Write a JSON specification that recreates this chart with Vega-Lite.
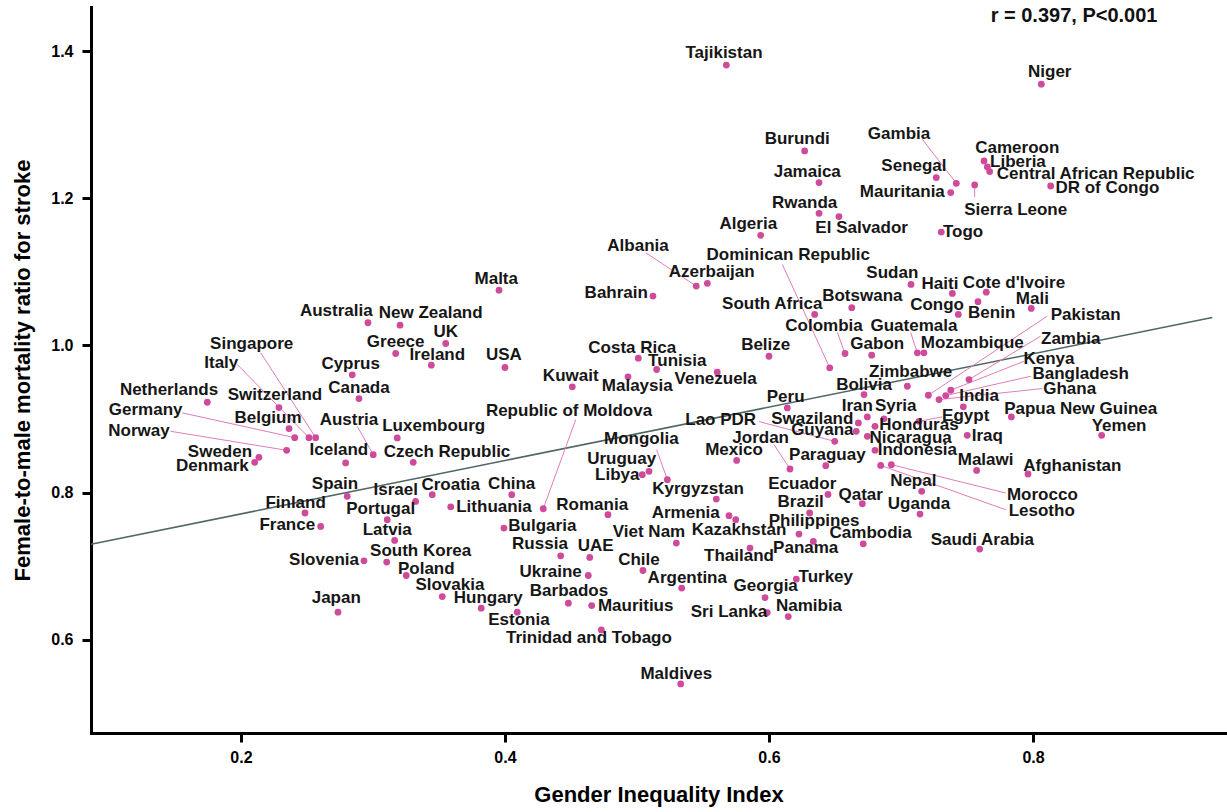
{
  "$schema": "https://vega.github.io/schema/vega-lite/v6.json",
  "width": 1135,
  "height": 726,
  "autosize": "none",
  "padding": {"left": 91, "top": 7, "right": 1, "bottom": 79},
  "background": "white",
  "config": {
    "view": {"stroke": null},
    "font": "Liberation Sans",
    "axis": {"grid": false, "domainColor": "black", "domainWidth": 3, "domainCap": "square", "tickColor": "black",
             "tickWidth": 3, "tickSize": 9, "labelFont": "Liberation Sans", "labelFontWeight": "bold",
             "labelFontSize": 16, "labelColor": "black", "format": ".1f", "tickCount": 5,
             "titleFont": "Liberation Sans", "titleFontSize": 22, "titleFontWeight": "bold",
             "titleColor": "black"},
    "axisX": {"labelPadding": 7, "titlePadding": 19},
    "axisY": {"labelPadding": 9, "titlePadding": 16}
  },
  "datasets": {
    "fit": [{"x": 0.0864, "y": 0.730}, {"x": 0.9358, "y": 1.038}],
    "note": [{"t": "r = 0.397, P<0.001", "x": 0.8311, "y": 1.4476}],
    "pts": [
      {"c":"Netherlands","x":0.1745,"y":0.9229,"lx":0.1455,"ly":0.9401},
      {"c":"Denmark","x":0.2104,"y":0.8412,"lx":0.1783,"ly":0.8358},
      {"c":"Sweden","x":0.2136,"y":0.8480,"lx":0.1841,"ly":0.8549},
      {"c":"Switzerland","x":0.2288,"y":0.9157,"lx":0.2258,"ly":0.9333},
      {"c":"Norway","x":0.2346,"y":0.8576,"lx":0.1227,"ly":0.8844,"sx":0.1467,"sy":0.8834},
      {"c":"Belgium","x":0.2364,"y":0.8871,"lx":0.2205,"ly":0.9016},
      {"c":"Germany","x":0.2407,"y":0.8748,"lx":0.1278,"ly":0.9120,"sx":0.1555,"sy":0.9085},
      {"c":"Finland","x":0.2485,"y":0.7724,"lx":0.2414,"ly":0.7860},
      {"c":"Italy","x":0.2515,"y":0.8748,"lx":0.1851,"ly":0.9765,"sx":0.1972,"sy":0.9742},
      {"c":"Singapore","x":0.2566,"y":0.8748,"lx":0.2081,"ly":1.0014,"sx":0.2149,"sy":0.9901},
      {"c":"France","x":0.2604,"y":0.7542,"lx":0.2351,"ly":0.7565},
      {"c":"Japan","x":0.2735,"y":0.6377,"lx":0.2722,"ly":0.6567},
      {"c":"Iceland","x":0.2793,"y":0.8404,"lx":0.2742,"ly":0.8585},
      {"c":"Spain","x":0.2805,"y":0.7950,"lx":0.2712,"ly":0.8123},
      {"c":"Cyprus","x":0.2843,"y":0.9601,"lx":0.2831,"ly":0.9755},
      {"c":"Canada","x":0.2894,"y":0.9279,"lx":0.2894,"ly":0.9429},
      {"c":"Slovenia","x":0.2932,"y":0.7075,"lx":0.2629,"ly":0.7079},
      {"c":"Australia","x":0.2962,"y":1.0309,"lx":0.2722,"ly":1.0467},
      {"c":"Austria","x":0.3002,"y":0.8517,"lx":0.2818,"ly":0.8993,"sx":0.2881,"sy":0.8902},
      {"c":"Portugal","x":0.3108,"y":0.7633,"lx":0.3058,"ly":0.7778},
      {"c":"South Korea","x":0.3104,"y":0.7057,"lx":0.3361,"ly":0.7202},
      {"c":"Latvia","x":0.3164,"y":0.7351,"lx":0.3108,"ly":0.7497},
      {"c":"Greece","x":0.3172,"y":0.9891,"lx":0.3172,"ly":1.0050},
      {"c":"Luxembourg","x":0.3184,"y":0.8744,"lx":0.3460,"ly":0.8902},
      {"c":"New Zealand","x":0.3205,"y":1.0276,"lx":0.3437,"ly":1.0445},
      {"c":"Poland","x":0.3252,"y":0.6875,"lx":0.3404,"ly":0.6966},
      {"c":"Czech Republic","x":0.3305,"y":0.8412,"lx":0.3561,"ly":0.8549},
      {"c":"Israel","x":0.3323,"y":0.7882,"lx":0.3172,"ly":0.8031},
      {"c":"UK","x":0.3551,"y":1.0027,"lx":0.3551,"ly":1.0181},
      {"c":"Ireland","x":0.3442,"y":0.9732,"lx":0.3487,"ly":0.9868},
      {"c":"Croatia","x":0.3449,"y":0.7973,"lx":0.3589,"ly":0.8109},
      {"c":"Slovakia","x":0.3525,"y":0.6589,"lx":0.3583,"ly":0.6748},
      {"c":"Lithuania","x":0.3589,"y":0.7806,"lx":0.3917,"ly":0.7800},
      {"c":"Hungary","x":0.3820,"y":0.6431,"lx":0.3873,"ly":0.6567},
      {"c":"Malta","x":0.3955,"y":1.0752,"lx":0.3934,"ly":1.0908},
      {"c":"Bulgaria","x":0.3992,"y":0.7520,"lx":0.4283,"ly":0.7542},
      {"c":"USA","x":0.4000,"y":0.9701,"lx":0.3992,"ly":0.9868},
      {"c":"China","x":0.4051,"y":0.7973,"lx":0.4051,"ly":0.8123},
      {"c":"Estonia","x":0.4093,"y":0.6377,"lx":0.4106,"ly":0.6272},
      {"c":"Republic of Moldova","x":0.4290,"y":0.7782,"lx":0.4485,"ly":0.9116,"sx":0.4536,"sy":0.8993},
      {"c":"Russia","x":0.4422,"y":0.7143,"lx":0.4265,"ly":0.7302},
      {"c":"Barbados","x":0.4480,"y":0.6499,"lx":0.4485,"ly":0.6671},
      {"c":"Kuwait","x":0.4510,"y":0.9438,"lx":0.4498,"ly":0.9592},
      {"c":"Ukraine","x":0.4631,"y":0.6875,"lx":0.4346,"ly":0.6929},
      {"c":"UAE","x":0.4642,"y":0.7120,"lx":0.4687,"ly":0.7270},
      {"c":"Mauritius","x":0.4657,"y":0.6467,"lx":0.4990,"ly":0.6467},
      {"c":"Trinidad and Tobago","x":0.4730,"y":0.6136,"lx":0.4636,"ly":0.6023},
      {"c":"Romania","x":0.4780,"y":0.7701,"lx":0.4661,"ly":0.7837},
      {"c":"Malaysia","x":0.4932,"y":0.9574,"lx":0.5002,"ly":0.9446},
      {"c":"Costa Rica","x":0.5010,"y":0.9827,"lx":0.4964,"ly":0.9969},
      {"c":"Libya","x":0.5040,"y":0.8245,"lx":0.4851,"ly":0.8245},
      {"c":"Chile","x":0.5045,"y":0.6943,"lx":0.5015,"ly":0.7089},
      {"c":"Uruguay","x":0.5091,"y":0.8290,"lx":0.4884,"ly":0.8459},
      {"c":"Bahrain","x":0.5121,"y":1.0671,"lx":0.4843,"ly":1.0708},
      {"c":"Tunisia","x":0.5149,"y":0.9674,"lx":0.5305,"ly":0.9796},
      {"c":"Mongolia","x":0.5230,"y":0.8177,"lx":0.5033,"ly":0.8731,"sx":0.5149,"sy":0.8585},
      {"c":"Viet Nam","x":0.5298,"y":0.7316,"lx":0.5091,"ly":0.7466},
      {"c":"Maldives","x":0.5331,"y":0.5401,"lx":0.5298,"ly":0.5538},
      {"c":"Argentina","x":0.5339,"y":0.6704,"lx":0.5381,"ly":0.6840},
      {"c":"Albania","x":0.5449,"y":1.0807,"lx":0.5008,"ly":1.1351,"sx":0.5066,"sy":1.1261},
      {"c":"Azerbaijan","x":0.5533,"y":1.0844,"lx":0.5566,"ly":1.0997},
      {"c":"Kyrgyzstan","x":0.5601,"y":0.7914,"lx":0.5462,"ly":0.8054},
      {"c":"Tajikistan","x":0.5677,"y":1.3810,"lx":0.5659,"ly":1.3969},
      {"c":"Armenia","x":0.5697,"y":0.7687,"lx":0.5369,"ly":0.7724},
      {"c":"Kazakhstan","x":0.5748,"y":0.7633,"lx":0.5773,"ly":0.7497},
      {"c":"Mexico","x":0.5755,"y":0.8439,"lx":0.5735,"ly":0.8576},
      {"c":"Venezuela","x":0.5608,"y":0.9637,"lx":0.5596,"ly":0.9538},
      {"c":"Thailand","x":0.5856,"y":0.7248,"lx":0.5773,"ly":0.7134},
      {"c":"Algeria","x":0.5937,"y":1.1497,"lx":0.5843,"ly":1.1646},
      {"c":"Georgia","x":0.5970,"y":0.6575,"lx":0.5975,"ly":0.6739},
      {"c":"Sri Lanka","x":0.5987,"y":0.6371,"lx":0.5697,"ly":0.6385},
      {"c":"Belize","x":0.6000,"y":0.9854,"lx":0.5975,"ly":1.0000},
      {"c":"Peru","x":0.6139,"y":0.9152,"lx":0.6126,"ly":0.9297},
      {"c":"Namibia","x":0.6146,"y":0.6317,"lx":0.6303,"ly":0.6467},
      {"c":"Jordan","x":0.6159,"y":0.8322,"lx":0.5937,"ly":0.8744,"sx":0.6038,"sy":0.8653},
      {"c":"Turkey","x":0.6207,"y":0.6826,"lx":0.6430,"ly":0.6848},
      {"c":"Philippines","x":0.6227,"y":0.7438,"lx":0.6341,"ly":0.7619},
      {"c":"Burundi","x":0.6270,"y":1.2644,"lx":0.6214,"ly":1.2803},
      {"c":"Brazil","x":0.6308,"y":0.7724,"lx":0.6240,"ly":0.7868},
      {"c":"Panama","x":0.6336,"y":0.7338,"lx":0.6278,"ly":0.7248},
      {"c":"South Africa","x":0.6346,"y":1.0422,"lx":0.6025,"ly":1.0558},
      {"c":"Jamaica","x":0.6379,"y":1.2214,"lx":0.6290,"ly":1.2358},
      {"c":"Rwanda","x":0.6379,"y":1.1796,"lx":0.6270,"ly":1.1942},
      {"c":"Paraguay","x":0.6430,"y":0.8367,"lx":0.6442,"ly":0.8517},
      {"c":"Ecuador","x":0.6447,"y":0.7977,"lx":0.6252,"ly":0.8122},
      {"c":"Dominican Republic","x":0.6460,"y":0.9697,"lx":0.6146,"ly":1.1224,"sx":0.6101,"sy":1.1102},
      {"c":"Lao PDR","x":0.6498,"y":0.8698,"lx":0.5634,"ly":0.8993,"sx":0.5924,"sy":0.8966},
      {"c":"El Salvador","x":0.6530,"y":1.1751,"lx":0.6702,"ly":1.1601},
      {"c":"Colombia","x":0.6576,"y":0.9891,"lx":0.6417,"ly":1.0263,"sx":0.6518,"sy":1.0177},
      {"c":"Botswana","x":0.6627,"y":1.0513,"lx":0.6707,"ly":1.0671},
      {"c":"Guyana","x":0.6661,"y":0.8834,"lx":0.6404,"ly":0.8848},
      {"c":"Swaziland","x":0.6677,"y":0.8948,"lx":0.6328,"ly":0.9003},
      {"c":"Qatar","x":0.6707,"y":0.7850,"lx":0.6695,"ly":0.7973},
      {"c":"Cambodia","x":0.6714,"y":0.7306,"lx":0.6770,"ly":0.7452},
      {"c":"Bolivia","x":0.6720,"y":0.9333,"lx":0.6720,"ly":0.9460},
      {"c":"Iran","x":0.6745,"y":0.9030,"lx":0.6669,"ly":0.9174},
      {"c":"Nicaragua","x":0.6745,"y":0.8766,"lx":0.7073,"ly":0.8744},
      {"c":"Gabon","x":0.6778,"y":0.9868,"lx":0.6820,"ly":1.0014},
      {"c":"Honduras","x":0.6803,"y":0.8902,"lx":0.7136,"ly":0.8925},
      {"c":"Indonesia","x":0.6803,"y":0.8576,"lx":0.7124,"ly":0.8576},
      {"c":"Lesotho","x":0.6846,"y":0.8371,"lx":0.8066,"ly":0.7746,"sx":0.7793,"sy":0.7769},
      {"c":"Syria","x":0.6871,"y":0.9003,"lx":0.6960,"ly":0.9174},
      {"c":"Morocco","x":0.6927,"y":0.8381,"lx":0.8071,"ly":0.7973,"sx":0.7793,"sy":0.7996},
      {"c":"Mauritania","x":0.7377,"y":1.2078,"lx":0.7010,"ly":1.2091},
      {"c":"Zimbabwe","x":0.7048,"y":0.9446,"lx":0.7073,"ly":0.9637},
      {"c":"Sudan","x":0.7076,"y":1.0830,"lx":0.6934,"ly":1.0980},
      {"c":"Uganda","x":0.7144,"y":0.7710,"lx":0.7136,"ly":0.7846},
      {"c":"Guatemala","x":0.7124,"y":0.9901,"lx":0.7098,"ly":1.0263,"sx":0.7073,"sy":1.0177},
      {"c":"Egypt","x":0.7136,"y":0.8970,"lx":0.7490,"ly":0.9048,"sx":0.7313,"sy":0.9030},
      {"c":"Nepal","x":0.7157,"y":0.8018,"lx":0.7093,"ly":0.8154},
      {"c":"Mozambique","x":0.7174,"y":0.9901,"lx":0.7540,"ly":1.0037},
      {"c":"Pakistan","x":0.7207,"y":0.9324,"lx":0.8399,"ly":1.0408,"sx":0.8108,"sy":1.0399},
      {"c":"Senegal","x":0.7267,"y":1.2282,"lx":0.7098,"ly":1.2439},
      {"c":"Ghana","x":0.7288,"y":0.9265,"lx":0.8278,"ly":0.9411,"sx":0.8070,"sy":0.9415},
      {"c":"Togo","x":0.7305,"y":1.1541,"lx":0.7470,"ly":1.1541},
      {"c":"Bangladesh","x":0.7339,"y":0.9320,"lx":0.8361,"ly":0.9615,"sx":0.7983,"sy":0.9582},
      {"c":"Kenya","x":0.7377,"y":0.9392,"lx":0.8121,"ly":0.9819,"sx":0.7932,"sy":0.9786},
      {"c":"Haiti","x":0.7389,"y":1.0707,"lx":0.7295,"ly":1.0837},
      {"c":"Gambia","x":0.7419,"y":1.2204,"lx":0.6985,"ly":1.2871,"sx":0.7161,"sy":1.2803},
      {"c":"Congo","x":0.7434,"y":1.0422,"lx":0.7273,"ly":1.0554},
      {"c":"India","x":0.7472,"y":0.9166,"lx":0.7591,"ly":0.9310},
      {"c":"Iraq","x":0.7502,"y":0.8780,"lx":0.7654,"ly":0.8766},
      {"c":"Zambia","x":0.7515,"y":0.9537,"lx":0.8286,"ly":1.0091,"sx":0.8058,"sy":1.0127},
      {"c":"Sierra Leone","x":0.7558,"y":1.2181,"lx":0.7869,"ly":1.1841,"sx":0.7558,"sy":1.2014},
      {"c":"Malawi","x":0.7573,"y":0.8303,"lx":0.7641,"ly":0.8439},
      {"c":"Benin","x":0.7583,"y":1.0595,"lx":0.7687,"ly":1.0435},
      {"c":"Saudi Arabia","x":0.7596,"y":0.7234,"lx":0.7616,"ly":0.7361},
      {"c":"Cameroon","x":0.7629,"y":1.2507,"lx":0.7881,"ly":1.2680},
      {"c":"Cote d'Ivoire","x":0.7646,"y":1.0725,"lx":0.7856,"ly":1.0853},
      {"c":"Liberia","x":0.7654,"y":1.2426,"lx":0.7886,"ly":1.2499},
      {"c":"Central African Republic","x":0.7672,"y":1.2363,"lx":0.8475,"ly":1.2327},
      {"c":"Papua New Guinea","x":0.7836,"y":0.9030,"lx":0.8361,"ly":0.9139},
      {"c":"Afghanistan","x":0.7962,"y":0.8254,"lx":0.8298,"ly":0.8367},
      {"c":"Mali","x":0.7987,"y":1.0503,"lx":0.7995,"ly":1.0635},
      {"c":"Niger","x":0.8063,"y":1.3551,"lx":0.8127,"ly":1.3710},
      {"c":"DR of Congo","x":0.8134,"y":1.2167,"lx":0.8563,"ly":1.2136},
      {"c":"Yemen","x":0.8520,"y":0.8780,"lx":0.8652,"ly":0.8902}
    ]
  },
  "layer": [
    {
      "data": {"name": "fit"},
      "mark": {"type": "line", "color": "#4f6767", "strokeWidth": 1.6},
      "encoding": {
        "x": {"field": "x", "type": "quantitative", "title": "Gender Inequality Index", "scale": {"domain": [0.0864, 0.9462], "nice": false, "zero": false}},
        "y": {"field": "y", "type": "quantitative", "title": "Female-to-male mortality ratio for stroke", "scale": {"domain": [0.4735, 1.4599], "nice": false, "zero": false}}
      }
    },
    {
      "data": {"name": "pts"},
      "transform": [{"filter": "isValid(datum.sx)"}],
      "mark": {"type": "rule", "color": "#e07cbc", "strokeWidth": 1},
      "encoding": {
        "x": {"field": "sx", "type": "quantitative", "title": "Gender Inequality Index", "scale": {"domain": [0.0864, 0.9462], "nice": false, "zero": false}},
        "y": {"field": "sy", "type": "quantitative", "title": "Female-to-male mortality ratio for stroke", "scale": {"domain": [0.4735, 1.4599], "nice": false, "zero": false}},
        "x2": {"field": "x"},
        "y2": {"field": "y"}
      }
    },
    {
      "data": {"name": "pts"},
      "mark": {"type": "point", "filled": true, "size": 46, "color": "#cf4a9a", "opacity": 1},
      "encoding": {
        "x": {"field": "x", "type": "quantitative", "title": "Gender Inequality Index", "scale": {"domain": [0.0864, 0.9462], "nice": false, "zero": false}},
        "y": {"field": "y", "type": "quantitative", "title": "Female-to-male mortality ratio for stroke", "scale": {"domain": [0.4735, 1.4599], "nice": false, "zero": false}}
      }
    },
    {
      "data": {"name": "pts"},
      "mark": {"type": "text", "align": "center", "baseline": "middle", "font": "Liberation Sans", "fontWeight": "bold", "fontSize": 17, "color": "#161616"},
      "encoding": {
        "x": {"field": "lx", "type": "quantitative", "title": "Gender Inequality Index", "scale": {"domain": [0.0864, 0.9462], "nice": false, "zero": false}},
        "y": {"field": "ly", "type": "quantitative", "title": "Female-to-male mortality ratio for stroke", "scale": {"domain": [0.4735, 1.4599], "nice": false, "zero": false}},
        "text": {"field": "c"}
      }
    },
    {
      "data": {"name": "note"},
      "mark": {"type": "text", "align": "center", "baseline": "middle", "font": "Liberation Sans", "fontWeight": "bold", "fontSize": 20, "color": "#111111"},
      "encoding": {
        "x": {"field": "x", "type": "quantitative", "title": "Gender Inequality Index", "scale": {"domain": [0.0864, 0.9462], "nice": false, "zero": false}},
        "y": {"field": "y", "type": "quantitative", "title": "Female-to-male mortality ratio for stroke", "scale": {"domain": [0.4735, 1.4599], "nice": false, "zero": false}},
        "text": {"field": "t"}
      }
    }
  ]
}
